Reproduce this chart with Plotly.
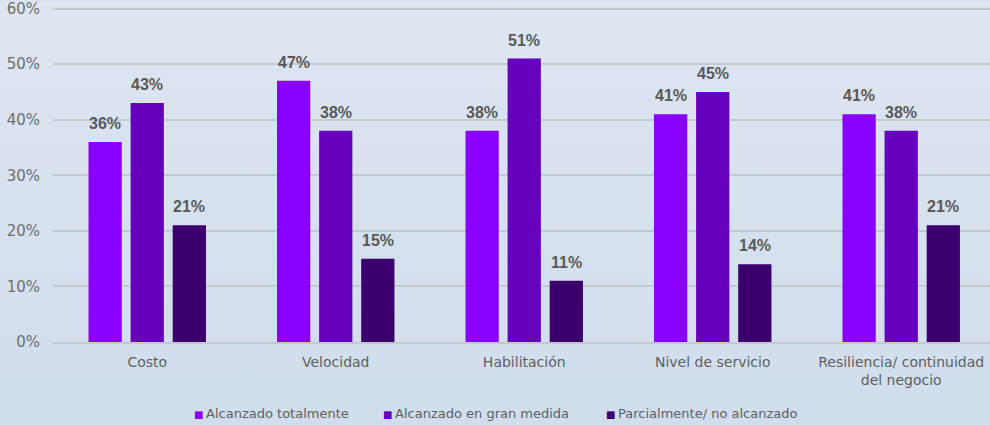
import base64
import plotly.graph_objects as go

categories = ["Costo", "Velocidad", "Habilitación", "Nivel de servicio",
              "Resiliencia/ continuidad<br>del negocio"]
series_names = ["Alcanzado totalmente", "Alcanzado en gran medida",
                "Parcialmente/ no alcanzado"]
alcanzado_totalmente = [0.36, 0.47, 0.38, 0.41, 0.41]
alcanzado_gran_medida = [0.43, 0.38, 0.51, 0.45, 0.38]
parcialmente = [0.21, 0.15, 0.11, 0.14, 0.21]
tick_values = [0, 0.1, 0.2, 0.3, 0.4, 0.5, 0.6]
tick_labels = ["0%", "10%", "20%", "30%", "40%", "50%", "60%"]
colors = ["#8A00FF", "#6600BD", "#3C006E"]
legend_x = [0.1483, 0.350, 0.588]
label_xshift = [-42.1, 0, 42.1]

# background gradient (style only)
svg = ("<svg xmlns='http://www.w3.org/2000/svg' width='990' height='425' preserveAspectRatio='none'>"
       "<defs><linearGradient id='g' x1='0' y1='0' x2='0' y2='1'>"
       "<stop offset='0' stop-color='#DDE6F1'/><stop offset='1' stop-color='#D0DDEC'/>"
       "</linearGradient></defs><rect width='990' height='425' fill='url(#g)'/></svg>")
bg_src = "data:image/svg+xml;base64," + base64.b64encode(svg.encode()).decode()

fig = go.Figure()
annotations = []
for name, vals, col, xs in zip(series_names,
                               [alcanzado_totalmente, alcanzado_gran_medida, parcialmente],
                               colors, label_xshift):
    fig.add_trace(go.Bar(
        x=categories, y=vals, name=name,
        marker=dict(color=col, line=dict(width=0)),
    ))
    for c, v in zip(categories, vals):
        annotations.append(dict(
            x=c, y=v, xref="x", yref="y", xanchor="center", yanchor="bottom",
            xshift=xs, yshift=8, showarrow=False, text=f"{round(v*100)}%",
            font=dict(family="Arial", size=16, color="#595959", weight="bold"),
        ))

for name, col, lx in zip(series_names, colors, legend_x):
    annotations.append(dict(
        x=lx, y=-0.21, xref="paper", yref="paper", xanchor="left", yanchor="middle",
        showarrow=False,
        text=f"<span style='color:{col};font-size:10px'>■</span>\u2009{name}",
        font=dict(family="DejaVu Sans", size=13, color="#5F5F5F"),
    ))

fig.update_layout(
    width=990, height=425,
    margin=dict(l=53, r=0, t=1.4, b=83),
    paper_bgcolor="#D7E2EE",
    plot_bgcolor="rgba(0,0,0,0)",
    images=[dict(source=bg_src, xref="paper", yref="paper", x=-0.0566, y=1.0041,
                 sizex=1.0566, sizey=1.2479, xanchor="left", yanchor="top",
                 sizing="stretch", layer="below")],
    barmode="group",
    bargap=0.33,
    bargroupgap=0.21,
    font=dict(family="DejaVu Sans", color="#595959"),
    yaxis=dict(range=[0, 0.61], tickvals=tick_values, ticktext=tick_labels,
               gridcolor="#C5C9CE", gridwidth=1.8, zeroline=False,
               showline=False, ticks="", ticklabelstandoff=12,
               ticklabeloverflow="allow",
               tickfont=dict(family="DejaVu Sans", size=15, color="#6E6E6E")),
    xaxis=dict(range=[-0.5, 4.471], showline=True, linecolor="#C5C9CE", linewidth=1.8,
               ticks="", ticklabelstandoff=6,
               tickfont=dict(family="DejaVu Sans", size=14, color="#5F5F5F")),
    showlegend=False,
    annotations=annotations,
)

fig.write_html("out.html", config={"displayModeBar": False})
with open("out.html", encoding="utf-8") as f:
    html = f.read()
html = html.replace("<head>", "<head><style>html,body{margin:0;padding:0;overflow:hidden;}</style>", 1)
with open("out.html", "w", encoding="utf-8") as f:
    f.write(html)
